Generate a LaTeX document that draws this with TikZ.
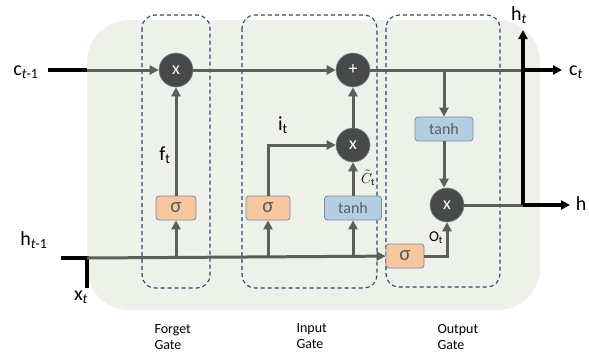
\documentclass[tikz,border=0pt]{standalone}
\usepackage{fontspec}
\setmainfont{Carlito}
\usetikzlibrary{arrows.meta,backgrounds,positioning}
\definecolor{cellbg}{HTML}{EDF1EA}
\definecolor{wire}{HTML}{5B5E59}
\definecolor{opfill}{HTML}{474A47}
\definecolor{sigfill}{HTML}{F7C7A0}
\definecolor{tanhfill}{HTML}{B3CDE3}
\definecolor{gatedash}{HTML}{2E4677}
\definecolor{boxedge}{HTML}{7C8CA0}
\tikzstyle{lstm}=[
  x=1pt,y=-1pt,>={Triangle[length=9pt,width=9pt]},font=\fontsize{20}{22}\selectfont
]
\tikzstyle{op}=[
  circle,fill=opfill,draw=boxedge,line width=0.6pt,minimum size=34pt,inner sep=0pt,
  text=white,font=\fontsize{18}{18}\selectfont
]
\tikzstyle{act}=[
  rectangle,rounded corners=3pt,draw=boxedge,line width=0.8pt,minimum height=24pt,
  inner sep=0pt,text=wire,font=\fontsize{16}{16}\selectfont
]
\tikzstyle{sig}=[
  act,fill=sigfill,font=\fontsize{21}{21}\selectfont
]
\tikzstyle{wireline}=[
  line width=3pt,draw=wire
]
\tikzstyle{inwire}=[
  line width=3.5pt,draw=black
]
\tikzstyle{gatebox}=[
  draw=gatedash,line width=1.1pt,dash pattern=on 4pt off 3pt,rounded corners=13pt
]
\tikzstyle{gatelabel}=[
  anchor=west,align=left,font=\fontsize{14}{16}\selectfont
]

\begin{document}
\begin{tikzpicture}[lstm]
  \useasboundingbox (0,0) rectangle (589,354);
  % cell body and the three gates
  \fill[cellbg,rounded corners=42pt] (87,20) rectangle (540,310);
  \draw[gatebox] (142,15) rectangle (210,288);
  \draw[gatebox] (242,15) rectangle (377,288);
  \draw[gatebox] (386,15) rectangle (500,287);

  % pointwise ops
  \node (fx) at (176,70) [op] {x};
  \node (add) at (353,70) [op] {+};
  \node (ix) at (353,145) [op] {x};
  \node (ox) at (447,205) [op] {x};
  % layers
  \node (fsig) at (176,208) [sig,minimum width=40pt] {σ};
  \node (isig) at (268,208) [sig,minimum width=44pt] {σ};
  \node (itanh) at (353,208) [act,fill=tanhfill,minimum width=57pt] {tanh};
  \node (osig) at (405,256) [sig,minimum width=38pt] {σ};
  \node (otanh) at (444,129) [act,fill=tanhfill,minimum width=58pt] {tanh};

  \coordinate (cin) at (48,70);
  \coordinate (cedge) at (87,70);
  \coordinate (ctap) at (444,70);
  \coordinate (cjoin) at (523,70);
  \coordinate (cout) at (562,70);
  \coordinate (hin) at (61,258);
  \coordinate (hedge) at (87,258);
  \coordinate (xin) at (87,288);
  \coordinate (ftap) at (176,258);
  \coordinate (itap) at (268,258);
  \coordinate (gtap) at (353,258);
  \coordinate (hjoin) at (523,205);
  \coordinate (htop) at (523,30);
  \coordinate (hout) at (570,205);

  % cell state
  \draw [inwire] (cin) -- (cedge);
  \draw [wireline,->] (cedge) -- (fx);
  \draw [wireline,->] (fx) -- (add);
  \draw [wireline] (add) -- (cjoin);
  \draw [inwire,->] (cjoin) -- (cout);
  \draw [wireline,->] (ctap) -- (otanh);
  \draw [wireline,->] (otanh) -- (otanh |- ox.north);
  \draw [wireline] (ox) -- (hjoin);
  \draw [inwire,->] (hjoin) -- (hout);
  \draw [inwire,->] (hjoin) -- (htop);

  % inputs
  \draw [inwire] (hin) -- (hedge) -- (xin);
  \draw [wireline,->] (hedge) -- (osig);
  \draw [wireline,->] (ftap) -- (fsig);
  \draw [wireline,->] (itap) -- (isig);
  \draw [wireline,->] (gtap) -- (itanh);
  \draw [wireline,->] (fsig) -- (fx);
  \draw [wireline,->] (isig) |- (ix);
  \draw [wireline,->] (itanh) -- (ix);
  \draw [wireline,->] (ix) -- (add);
  \draw [wireline,->] (osig) -| (ox);

  % labels
  \node (lcin) at (26,72) {c\textsubscript{\textit{t}-1}};
  \node (lhin) at (34,240) {h\textsubscript{\textit{t}-1}};
  \node (lxin) at (81,297) {x\textsubscript{\textit{t}}};
  \node (lcout) at (576,72) {c\textsubscript{\textit{t}}};
  \node (lhtop) at (519,15) {h\textsubscript{\textit{t}}};
  \node (lhout) at (581,204) {h};
  \node (lf) at (165,155) {f\textsubscript{t}};
  \node (li) at (283,125) {i\textsubscript{t}};
  \node (lg) at (368,178) [font=\fontsize{14}{14}\selectfont,inner sep=0pt] {$\tilde{C}_{\mathrm{t}}$};
  \node (lo) at (436,238) [font=\fontsize{15}{15}\selectfont] {O\textsubscript{t}};
  \node (lforget) at (151,337) [gatelabel] {Forget\\Gate};
  \node (linput) at (293,336) [gatelabel] {Input\\Gate};
  \node (loutput) at (434,337) [gatelabel] {Output\\Gate};
\end{tikzpicture}
\end{document}
